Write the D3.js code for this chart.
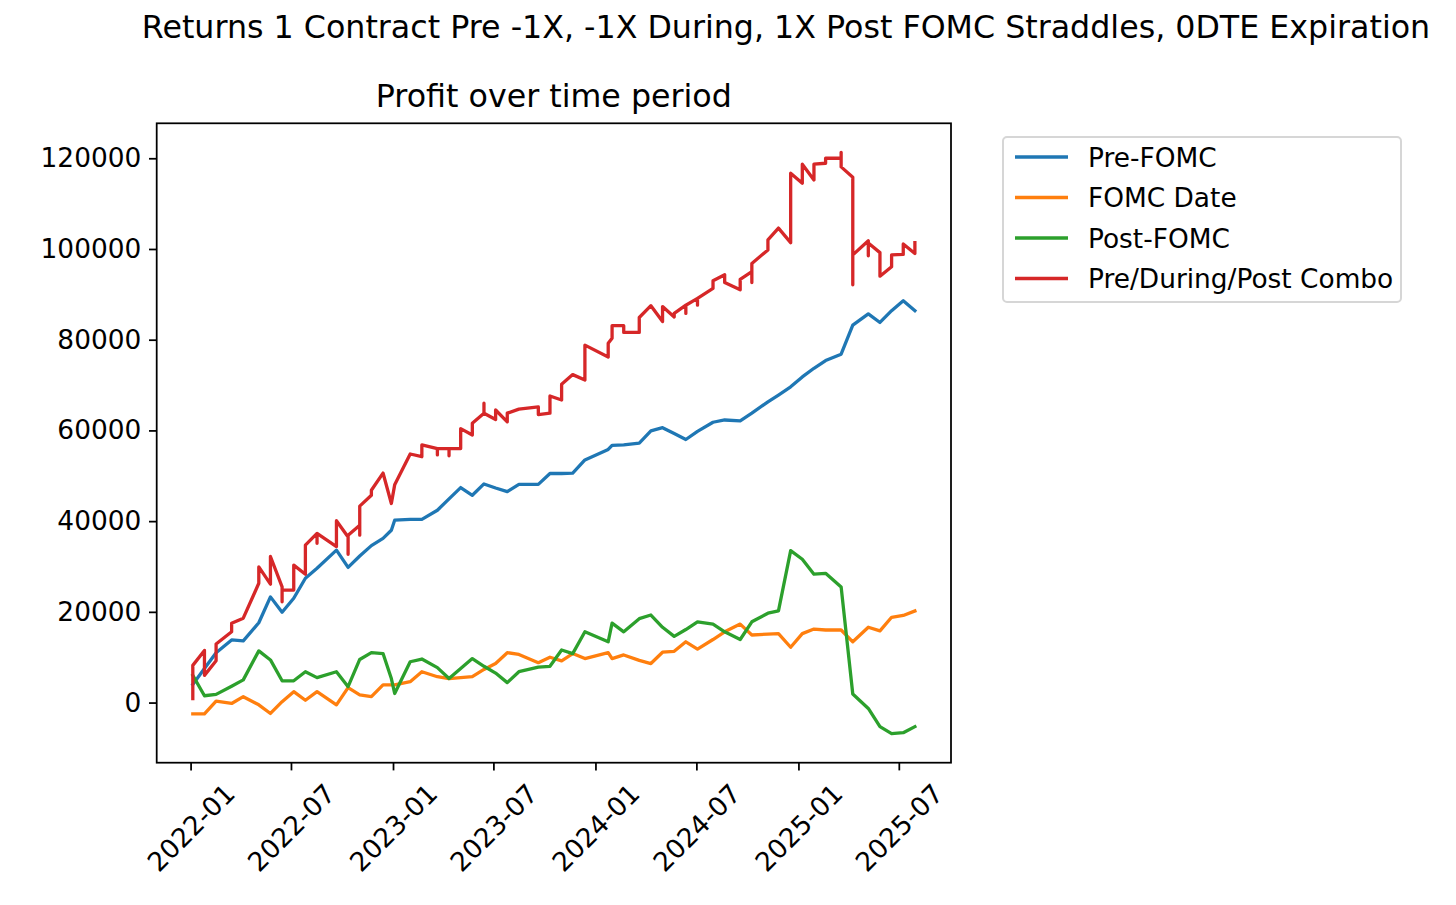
<!DOCTYPE html>
<html>
<head>
<meta charset="utf-8">
<script src="https://cdn.jsdelivr.net/npm/d3@7"></script>
<style>
body { margin: 0; background: #fff; }
text { font-family: "DejaVu Sans", sans-serif; fill: #000; }
</style>
</head>
<body>
<div id="chart"></div>
<script>

// event dates shared by the three single-leg series
var dates = [
  "2022-01-05","2022-01-26","2022-02-16","2022-03-16","2022-04-06","2022-05-04","2022-05-25","2022-06-15",
  "2022-07-06","2022-07-27","2022-08-17","2022-09-21","2022-10-12","2022-11-02","2022-11-23","2022-12-14",
  "2022-12-29","2023-01-04","2023-02-01","2023-02-22","2023-03-22","2023-04-12","2023-05-03","2023-05-24",
  "2023-06-14","2023-07-05","2023-07-26","2023-08-16","2023-09-20","2023-10-11","2023-11-01","2023-11-21",
  "2023-12-13","2024-01-24","2024-01-31","2024-02-21","2024-03-20","2024-04-10","2024-05-01","2024-05-22",
  "2024-06-12","2024-07-03","2024-07-31","2024-08-21","2024-09-18","2024-10-09","2024-11-07","2024-11-26",
  "2024-12-18","2025-01-08","2025-01-29","2025-02-19","2025-03-19","2025-04-09","2025-05-07","2025-05-28",
  "2025-06-18","2025-07-09","2025-07-30"];

var preFomc = [
  4000, 7500, 11000, 13800, 13600, 17600, 23300, 19900,
  23000, 27400, 29600, 33600, 29800, 32300, 34600, 36200,
  38000, 40200, 40400, 40400, 42400, 44900, 47400, 45700,
  48200, 47300, 46500, 48100, 48100, 50500, 50500, 50600,
  53500, 55800, 56700, 56800, 57200, 59900, 60600, 59300,
  58000, 59800, 61800, 62300, 62100, 63800, 66300, 67800,
  69600, 71800, 73700, 75400, 76800, 83200, 85700, 83800,
  86400, 88600, 86400];

var fomcDate = [
  -2500, -2500, 300, -200, 1300, -500, -2400, 200,
  2400, 500, 2400, -500, 3300, 1700, 1300, 3900,
  3900, 3900, 4600, 6800, 5700, 5300, 5500, 5700,
  7300, 8600, 11000, 10600, 8800, 10000, 9200, 10800,
  9700, 11000, 9700, 10500, 9300, 8600, 11100, 11300,
  13400, 11800, 13900, 15600, 17300, 14900, 15100, 15200,
  12200, 15200, 16200, 16000, 16000, 13400, 16600, 15800,
  18800, 19200, 20200];

var postFomc = [
  6000, 1500, 1800, 3600, 5000, 11400, 9400, 4800,
  4800, 6800, 5500, 6800, 3500, 9500, 11000, 10800,
  5300, 2000, 9000, 9600, 7700, 5300, 7500, 9700,
  8000, 6500, 4400, 6800, 7800, 8000, 11600, 10800,
  15600, 13400, 17500, 15600, 18500, 19300, 16600, 14600,
  16100, 17800, 17300, 15600, 13900, 17800, 19700, 20200,
  33500, 31600, 28300, 28500, 25500, 1900, -1300, -5300,
  -6850, -6650, -5300];

// combo is booked leg by leg, so one date can hold several values
var comboDates = [
  "2022-01-05","2022-01-05","2022-01-26","2022-01-26","2022-02-16","2022-02-16","2022-03-16","2022-03-16",
  "2022-04-06","2022-05-04","2022-05-04","2022-05-25","2022-05-25","2022-06-15","2022-06-15","2022-06-15",
  "2022-07-06","2022-07-06","2022-07-27","2022-07-27","2022-08-17","2022-08-17","2022-08-17","2022-09-21",
  "2022-09-21","2022-10-12","2022-10-12","2022-10-12","2022-11-02","2022-11-02","2022-11-02","2022-11-23",
  "2022-11-23","2022-12-14","2022-12-29","2023-01-04","2023-02-01","2023-02-22","2023-02-22","2023-03-22",
  "2023-03-22","2023-03-22","2023-04-12","2023-04-12","2023-04-12","2023-05-03","2023-05-03","2023-05-24",
  "2023-05-24","2023-06-14","2023-06-14","2023-06-14","2023-07-05","2023-07-05","2023-07-26","2023-07-26",
  "2023-08-16","2023-09-20","2023-09-20","2023-10-11","2023-10-11","2023-11-01","2023-11-01","2023-11-21",
  "2023-12-13","2023-12-13","2024-01-24","2024-01-24","2024-01-31","2024-01-31","2024-02-21","2024-02-21",
  "2024-03-20","2024-03-20","2024-04-10","2024-05-01","2024-05-01","2024-05-22","2024-05-22","2024-06-12",
  "2024-06-12","2024-06-12","2024-07-03","2024-07-03","2024-07-03","2024-07-31","2024-07-31","2024-08-21",
  "2024-08-21","2024-09-18","2024-09-18","2024-10-09","2024-10-09","2024-10-09","2024-11-07","2024-11-07",
  "2024-11-26","2024-12-18","2024-12-18","2025-01-08","2025-01-08","2025-01-29","2025-01-29","2025-02-19",
  "2025-02-19","2025-03-19","2025-03-19","2025-03-19","2025-04-09","2025-04-09","2025-04-09","2025-05-07",
  "2025-05-07","2025-05-07","2025-05-28","2025-05-28","2025-06-18","2025-06-18","2025-07-09","2025-07-09",
  "2025-07-30","2025-07-30"];

var comboVals = [
  900, 8200, 11500, 6000, 9200, 12900, 15600, 17500,
  18600, 26300, 29900, 26100, 32200, 25500, 22200, 24800,
  24800, 30300, 28300, 34700, 37300, 35100, 37300, 34400,
  40100, 36500, 32700, 36900, 39100, 36900, 43300, 45700,
  46800, 50600, 43900, 48000, 54800, 54200, 56800, 56000,
  54600, 56000, 56000, 54400, 56000, 56000, 60400, 59000,
  61600, 63800, 66000, 63800, 62400, 64500, 61900, 63800,
  64700, 65200, 63500, 63800, 67600, 66700, 70200, 72300,
  71100, 78800, 76200, 79200, 80300, 83100, 83100, 81600,
  81600, 84900, 87500, 84000, 87300, 85000, 85800, 87600,
  85800, 87600, 89100, 87600, 89100, 91300, 93000, 94300,
  92600, 91000, 93300, 95000, 92600, 96800, 99800, 102000,
  104600, 101400, 116700, 114500, 118700, 115200, 118700, 118900,
  120000, 120000, 121300, 118100, 115800, 92100, 98700, 101800,
  98500, 101300, 99200, 94000, 96100, 98700, 98800, 101100,
  99000, 101400];

var seriesNames = ["Pre-FOMC", "FOMC Date", "Post-FOMC", "Pre/During/Post Combo"];
var seriesColors = ["#1f77b4", "#ff7f0e", "#2ca02c", "#d62728"];

var xTickDates = ["2022-01-01","2022-07-01","2023-01-01","2023-07-01","2024-01-01","2024-07-01","2025-01-01","2025-07-01"];
var yTicks = [0, 20000, 40000, 60000, 80000, 100000, 120000];

var svgWidth = 1456, svgHeight = 905;
var axLeft = 156.7, axRight = 951, axTop = 123.3, axBottom = 762.7;

var svg = d3.select("#chart").append("svg")
    .attr("width", svgWidth)
    .attr("height", svgHeight);

var parse = d3.timeParse("%Y-%m-%d");
var xDates = dates.map(parse);
var comboX = comboDates.map(parse);

// matplotlib style 5% margins
var xExt = d3.extent(xDates.concat(comboX));
var xPad = (xExt[1] - xExt[0]) * 0.05;
var x = d3.scaleTime()
    .domain([new Date(+xExt[0] - xPad), new Date(+xExt[1] + xPad)])
    .range([axLeft, axRight]);

var yExt = d3.extent(preFomc.concat(fomcDate, postFomc, comboVals));
var yPad = (yExt[1] - yExt[0]) * 0.05;
var y = d3.scaleLinear()
    .domain([yExt[0] - yPad, yExt[1] + yPad])
    .range([axBottom, axTop]);

var series = [
    xDates.map(function(d, i) { return [d, preFomc[i]]; }),
    xDates.map(function(d, i) { return [d, fomcDate[i]]; }),
    xDates.map(function(d, i) { return [d, postFomc[i]]; }),
    comboX.map(function(d, i) { return [d, comboVals[i]]; })
];

var line = d3.line()
    .x(function(d) { return x(d[0]); })
    .y(function(d) { return y(d[1]); });

svg.selectAll(".series")
    .data(series)
    .enter()
    .append("path")
    .attr("class", "series")
    .attr("d", line)
    .attr("fill", "none")
    .attr("stroke", function(d, i) { return seriesColors[i]; })
    .attr("stroke-width", 3.3)
    .attr("stroke-linejoin", "round")
    .attr("stroke-linecap", "square");

// axes
var yAxis = svg.append("g")
    .attr("transform", "translate(" + axLeft + ",0)")
    .call(d3.axisLeft(y).tickValues(yTicks).tickFormat(d3.format("d")).tickSize(7.7).tickPadding(7.7));

var xAxis = svg.append("g")
    .attr("transform", "translate(0," + axBottom + ")")
    .call(d3.axisBottom(x).tickValues(xTickDates.map(parse)).tickFormat(d3.timeFormat("%Y-%m")).tickSize(7.7));

[yAxis, xAxis].forEach(function(g) {
    g.select(".domain").remove();
    g.selectAll(".tick line").attr("stroke", "#000").attr("stroke-width", 1.76);
    g.selectAll(".tick text").attr("font-size", "26.4px").attr("font-family", "DejaVu Sans").attr("fill", "#000");
});

xAxis.selectAll(".tick text")
    .attr("y", 0)
    .attr("dy", "0.35em")
    .attr("text-anchor", "middle")
    .attr("transform", "translate(0,65) rotate(-45)");

svg.append("rect")
    .attr("x", axLeft)
    .attr("y", axTop)
    .attr("width", axRight - axLeft)
    .attr("height", axBottom - axTop)
    .attr("fill", "none")
    .attr("stroke", "#000")
    .attr("stroke-width", 1.76);

// titles
svg.append("text")
    .text("Returns 1 Contract Pre -1X, -1X During, 1X Post FOMC Straddles, 0DTE Expiration")
    .attr("x", 786)
    .attr("y", 38)
    .attr("text-anchor", "middle")
    .attr("font-size", "31.7px");

svg.append("text")
    .text("Profit over time period")
    .attr("x", (axLeft + axRight) / 2)
    .attr("y", 107)
    .attr("text-anchor", "middle")
    .attr("font-size", "31.7px");

// legend
var legend = svg.append("g");
legend.append("rect")
    .attr("x", 1003)
    .attr("y", 137)
    .attr("width", 398)
    .attr("height", 165)
    .attr("rx", 4)
    .attr("fill", "#fff")
    .attr("fill-opacity", 0.8)
    .attr("stroke", "#d6d6d6")
    .attr("stroke-width", 2);

var item = legend.selectAll(".item")
    .data(seriesNames)
    .enter()
    .append("g")
    .attr("class", "item")
    .attr("transform", function(d, i) { return "translate(0," + (157 + i * 40.5) + ")"; });

item.append("line")
    .attr("x1", 1015)
    .attr("x2", 1068)
    .attr("stroke", function(d, i) { return seriesColors[i]; })
    .attr("stroke-width", 3.3);

item.append("text")
    .text(function(d) { return d; })
    .attr("x", 1088)
    .attr("y", 9.5)
    .attr("font-size", "26.4px");

</script>
</body>
</html>
